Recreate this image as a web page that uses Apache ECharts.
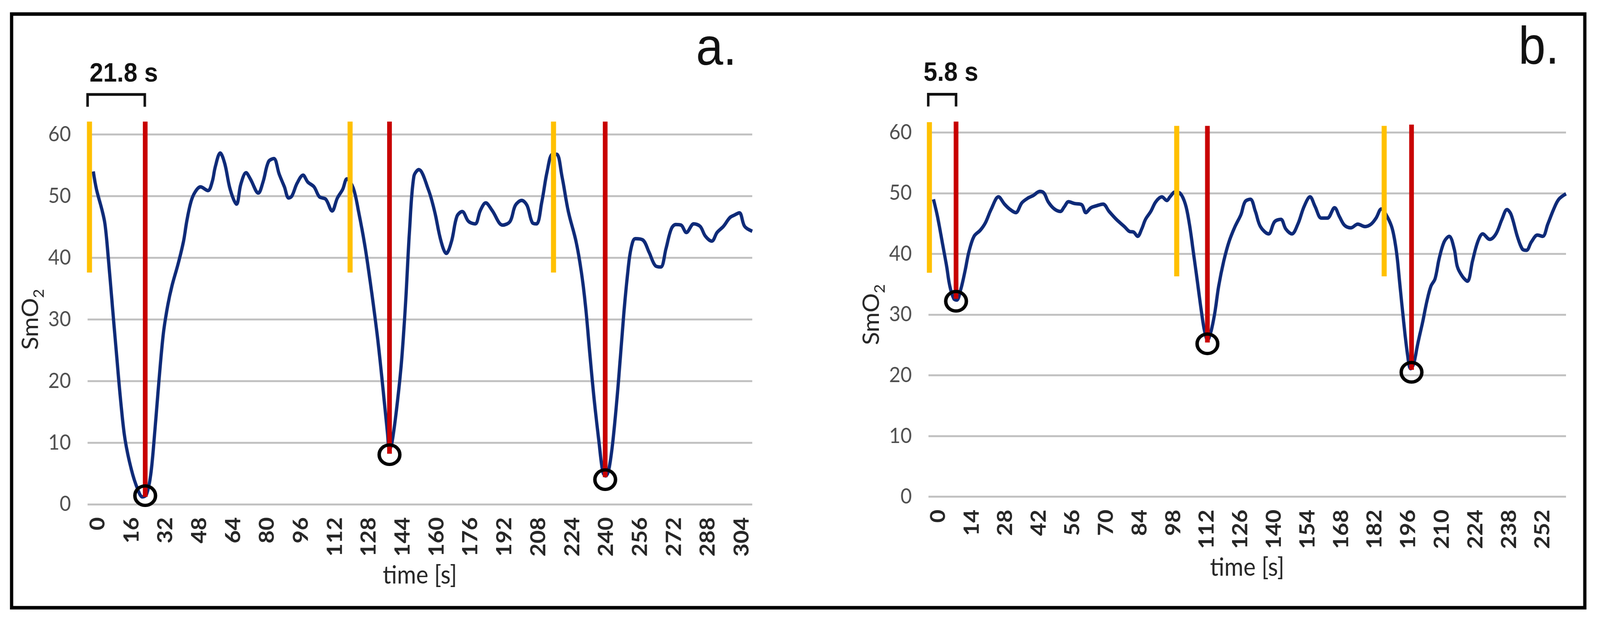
<!DOCTYPE html>
<html><head><meta charset="utf-8">
<script src="https://cdn.jsdelivr.net/npm/echarts@6/dist/echarts.min.js"></script>
<style>html,body{margin:0;padding:0;background:#fff;overflow:hidden}#c{width:4422px;height:1591px;transform-origin:0 0}</style>
</head><body><div id="c"></div>
<script>
// ---------- Panel a data ----------
const timeA = [-2.1,-0.6,1.9,3.4,4.9,6.9,8.9,10.9,12.9,15.9,18.9,21.1,23.0,25.0,27.0,29.0,31.0,33.0,35.0,38.0,40.5,42.0,44.0,46.0,48.5,52.0,54.0,55.5,57.8,60.0,62.5,65.5,67.5,70.0,72.0,75.8,78.0,80.6,83.1,85.6,88.1,90.1,91.6,94.1,96.9,99.1,102.1,104.6,107.6,110.6,113.1,115.6,117.6,120.6,123.1,126.1,129.2,132.2,134.7,136.7,137.7,138.7,140.7,143.2,145.2,147.2,149.2,151.5,156.0,159.0,162.0,164.5,167.0,169.5,172.0,175.0,178.1,180.6,183.1,186.1,191.1,194.6,197.1,200.1,202.6,205.1,207.1,209.6,212.1,214.6,216.6,219.1,222.1,225.7,228.2,230.2,232.2,234.2,236.7,238.4,239.7,241.2,243.2,245.7,248.2,250.2,251.7,253.7,257.2,260.2,263.2,265.7,268.2,270.7,272.8,275.3,277.8,281.3,284.3,286.8,289.8,292.3,295.3,298.3,300.3,302.8,305.3,308.9];
const smo2A = [54.0,51.1,47.9,45.5,40.3,32.2,24.2,16.5,10.5,5.6,2.4,1.2,1.6,4.8,12.1,20.5,27.8,32.2,35.4,39.1,42.7,45.9,49.1,50.7,51.5,50.9,52.3,54.8,57.0,55.2,51.1,48.7,51.9,53.8,52.8,50.5,52.3,55.6,56.1,53.6,51.5,49.7,50.0,52.1,53.4,52.3,51.5,49.9,49.5,47.6,49.7,51.1,52.8,51.3,47.5,41.9,34.6,26.6,18.5,11.7,8.9,9.7,14.5,22.5,32.2,44.7,53.2,54.3,51.1,47.5,42.7,40.7,42.7,46.7,47.5,45.9,45.5,47.7,48.9,47.7,45.3,45.9,48.5,49.3,48.5,45.7,45.5,49.1,54.0,56.8,56.8,53.2,47.5,42.7,37.8,32.2,24.6,17.3,9.7,5.2,4.6,5.6,10.5,19.7,30.6,37.8,41.5,43.1,42.9,40.9,38.7,38.5,41.5,44.7,45.4,45.3,44.1,45.5,45.1,43.5,42.7,44.1,45.1,46.5,46.9,47.3,45.1,44.3];
const ticksA = [0,16,32,48,64,80,96,112,128,144,160,176,192,208,224,240,256,272,288,304];
const startA = [-3.9, 119.1, 215.1];      // yellow lines (time)
const startTopA = 62.1, startBottomA = 37.6;
const minTimeA = [22.4, 137.7, 239.5];    // red lines / circles (time)
const minValA = [1.4, 8.05, 4.0];         // circled minima
const redTopA = 62.1;
const redBottomA = [1.2, 8.2, 4.4];
const bracketA = [-4.8, 22.2];
const bracketYA = [64.5, 66.5];

// ---------- Panel b data ----------
const timeB = [-2.0,-0.3,1.8,3.5,4.8,6.5,7.7,9.4,11.1,12.8,14.9,17.5,19.6,22.1,25.1,27.6,29.7,32.3,34.8,37.4,39.5,42.4,44.1,45.8,48.4,50.9,52.6,54.3,56.8,59.8,61.5,63.6,65.7,68.7,71.2,74.2,77.6,79.7,81.4,83.1,84.8,86.4,88.6,90.7,93.2,95.3,96.6,98.7,100.8,103.0,104.7,106.3,108.0,109.7,111.0,112.3,113.5,115.2,116.9,119.0,121.2,123.7,126.2,127.9,130.1,132.2,134.3,137.7,140.2,142.8,144.9,147.4,149.9,152.5,155.0,157.1,159.7,162.2,165.2,167.3,169.4,172.0,174.9,177.9,180.4,182.5,184.7,187.2,189.3,191.0,192.3,194.0,195.7,196.9,198.2,199.9,202.0,203.7,205.4,207.1,208.8,210.9,213.0,215.1,216.4,218.5,220.6,222.7,224.9,227.0,229.9,232.5,235.0,237.1,238.8,241.4,243.5,245.2,247.3,249.8,252.0,254.1,256.6,258.7,261.7];
const smo2B = [49.0,46.1,41.6,37.9,34.7,32.6,32.4,34.2,37.1,40.4,42.9,43.9,45.1,47.4,49.4,48.2,47.4,46.8,48.4,49.2,49.6,50.3,50.0,48.6,47.4,47.0,47.8,48.6,48.3,48.1,46.8,47.6,47.9,48.2,47.0,45.7,44.5,43.7,43.6,42.9,44.1,45.7,47.0,48.6,49.4,48.8,49.4,50.2,50.0,48.2,44.9,40.4,35.5,30.5,27.3,25.8,26.9,30.1,34.7,38.8,42.0,44.5,46.5,48.6,49.0,47.0,44.5,43.3,45.3,45.7,44.1,43.3,44.9,47.8,49.4,47.8,45.9,45.9,47.6,46.1,44.7,44.3,44.9,44.5,44.9,45.9,47.4,46.1,44.1,40.4,35.5,28.9,23.2,21.1,21.9,25.2,28.9,32.2,34.7,35.9,39.2,42.0,42.9,40.8,37.9,36.3,35.5,38.8,42.0,43.3,42.4,43.3,45.7,47.3,46.5,42.9,40.8,40.6,42.0,43.1,42.9,44.9,47.4,49.0,49.9];
const ticksB = [0,14,28,42,56,70,84,98,112,126,140,154,168,182,196,210,224,238,252];
const startB = [-3.7, 99.4, 185.9];
const startTopB = [61.7, 61.1, 61.1];
const startBottomB = [36.9, 36.3, 36.3];
const minTimeB = [7.4, 112.2, 197.3];
const minValB = [32.2, 25.2, 20.5];
const redTopB = [61.8, 61.1, 61.3];
const redBottomB = [32.6, 25.4, 20.9];
const bracketB = [-4.2, 7.4];
const bracketYB = [64.3, 66.3];

const labelsText = { a: 'a.', b: 'b.', durA: '21.8 s', durB: '5.8 s' };

// ---------- styles ----------
const NAVY = '#0E2A78', YELLOW = '#FFC000', RED = '#C80000';
const AX_FONT = 'Lato, "Open Sans", sans-serif';
const TXT_FONT = '"Liberation Sans", Arial, sans-serif';

function pairs(xs, ys) { return xs.map((x, i) => [x, ys[i]]); }
function vline(gi, t, top, bottom, color, width) {
  return { type: 'line', xAxisIndex: gi, yAxisIndex: gi, data: [[t, top], [t, bottom]],
    symbol: 'none', clip: false, silent: true, z: 5,
    lineStyle: { color: color, width: width, cap: 'butt' } };
}
function bracket(gi, xs, ys) {
  return { type: 'line', xAxisIndex: gi, yAxisIndex: gi,
    data: [[xs[0], ys[0]], [xs[0], ys[1]], [xs[1], ys[1]], [xs[1], ys[0]]],
    symbol: 'none', clip: false, silent: true, z: 5,
    lineStyle: { color: '#111', width: 7, join: 'miter', cap: 'butt' } };
}
function circles(gi, xs, ys) {
  return { type: 'scatter', xAxisIndex: gi, yAxisIndex: gi, data: pairs(xs, ys),
    symbol: 'circle', symbolSize: [57, 50], clip: false, silent: true, z: 7,
    itemStyle: { color: 'rgba(255,255,255,0)', borderColor: '#000', borderWidth: 9, opacity: 1 } };
}
function curve(gi, xs, ys) {
  return { type: 'line', xAxisIndex: gi, yAxisIndex: gi, data: pairs(xs, ys),
    smooth: 0.35, symbol: 'none', z: 3, silent: true,
    lineStyle: { color: NAVY, width: 9 } };
}
function xAxisDef(gi, min, max, ticks, gap) {
  return { type: 'value', gridIndex: gi, min: min, max: max,
    axisLine: { show: false }, axisTick: { show: false }, splitLine: { show: false },
    axisLabel: { customValues: ticks, rotate: 90, margin: 33, fontSize: 58, fontWeight: 'bold',
      color: '#262626', fontFamily: AX_FONT },
    name: 'time [s]', nameLocation: 'middle', nameGap: gap,
    nameTextStyle: { fontSize: 64, color: '#262626', fontFamily: AX_FONT } };
}
function yAxisDef(gi) {
  return { type: 'value', gridIndex: gi, min: 0, max: 60, interval: 10,
    axisLine: { show: false }, axisTick: { show: false },
    splitLine: { lineStyle: { color: '#C2C2C2', width: 5 } },
    axisLabel: { fontSize: 54, color: '#4F4F4F', margin: 46, fontFamily: AX_FONT },
    name: '{m|SmO}{s|2}', nameLocation: 'middle', nameGap: 122, nameRotate: 90,
    nameTextStyle: { rich: {
      m: { fontSize: 62, color: '#262626', fontFamily: AX_FONT, lineHeight: 70 },
      s: { fontSize: 40, color: '#262626', fontFamily: AX_FONT, lineHeight: 70, verticalAlign: 'bottom', padding: [0, 0, -8, 0] }
    } } };
}

const series = [curve(0, timeA, smo2A), curve(1, timeB, smo2B)];
startA.forEach(t => series.push(vline(0, t, startTopA, startBottomA, YELLOW, 14)));
minTimeA.forEach((t, i) => series.push(vline(0, t, redTopA, redBottomA[i], RED, 13)));
startB.forEach((t, i) => series.push(vline(1, t, startTopB[i], startBottomB[i], YELLOW, 14)));
minTimeB.forEach((t, i) => series.push(vline(1, t, redTopB[i], redBottomB[i], RED, 13)));
series.push(circles(0, minTimeA, minValA), circles(1, minTimeB, minValB));
series.push(bracket(0, bracketA, bracketYA), bracket(1, bracketB, bracketYB));

// fit the 4422x1591 design into whatever viewport the browser really has
const box = document.getElementById('c');
const vw = window.innerWidth || 4422, vh = window.innerHeight || 1591;
box.style.transform = 'scale(' + (vw / 4422) + ',' + (vh / 1591) + ')';

const chart = echarts.init(box, null, { renderer: 'canvas', width: 4422, height: 1591 });
chart.setOption({
  backgroundColor: '#fff',
  animation: false,
  grid: [
    { left: 242, top: 344.6, width: 1837, height: 947.4 },
    { left: 2566, top: 339.5, width: 1762, height: 933.1 }
  ],
  xAxis: [xAxisDef(0, -4.8, 308.9, ticksA, 150), xAxisDef(1, -4.1, 261.7, ticksB, 150)],
  yAxis: [yAxisDef(0), yAxisDef(1)],
  series: series,
  graphic: [
    { type: 'rect', shape: { x: 32, y: 36, width: 4348, height: 1521 },
      style: { fill: 'none', stroke: '#000', lineWidth: 9 }, silent: true },
    { type: 'text', style: { text: labelsText.a, x: 2036, y: 129, textAlign: 'right', textVerticalAlign: 'middle', verticalAlign: 'middle',
      font: '135px ' + TXT_FONT, fill: '#111' } },
    { type: 'text', style: { text: labelsText.b, x: 4309, y: 126, textAlign: 'right', textVerticalAlign: 'middle', verticalAlign: 'middle',
      font: '135px ' + TXT_FONT, fill: '#111' } },
    { type: 'text', style: { text: labelsText.durA, x: 342, y: 190, textAlign: 'center', textVerticalAlign: 'middle', verticalAlign: 'middle',
      font: 'bold 68px ' + TXT_FONT, fill: '#111' } },
    { type: 'text', style: { text: labelsText.durB, x: 2628, y: 188, textAlign: 'center', textVerticalAlign: 'middle', verticalAlign: 'middle',
      font: 'bold 68px ' + TXT_FONT, fill: '#111' } }
  ]
});
</script></body></html>
